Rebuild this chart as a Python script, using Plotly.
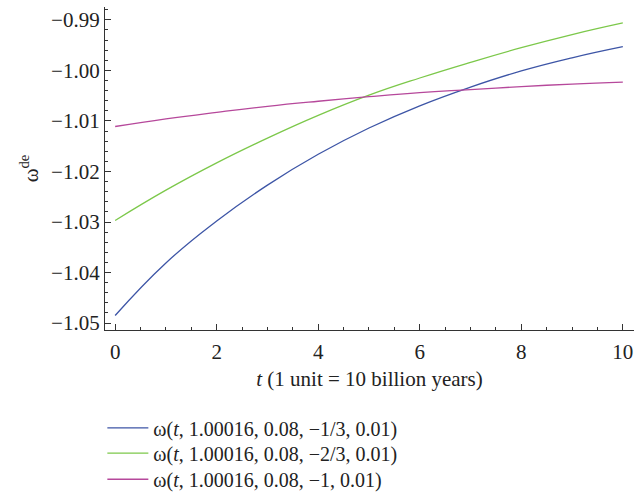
import plotly.graph_objects as go

t = [0, 1, 2, 3, 4, 5, 6, 7, 8, 9, 10]
w_blue = [-1.0485, -1.0381, -1.0298, -1.0227, -1.0166, -1.0114, -1.0070, -1.0033, -1.0001, -0.9975, -0.9953]
w_green = [-1.0297, -1.0237, -1.0183, -1.0134, -1.0089, -1.0049, -1.0015, -0.9984, -0.9955, -0.9929, -0.9906]
w_magenta = [-1.0111, -1.0096, -1.0083, -1.0071, -1.0061, -1.0052, -1.0044, -1.0038, -1.0032, -1.0027, -1.0023]

names = ["ω(<i>t</i>, 1.00016, 0.08, −1/3, 0.01)",
         "ω(<i>t</i>, 1.00016, 0.08, −2/3, 0.01)",
         "ω(<i>t</i>, 1.00016, 0.08, −1, 0.01)"]
colors = ["#3D55A6", "#7CC84A", "#B6489B"]
series = [w_blue, w_green, w_magenta]
legend_ids = ["legend", "legend2", "legend3"]
legend_y = [-0.303, -0.381, -0.462]

FONT = "Liberation Serif"
FS = 21
TXT = "#222"

fig = go.Figure()
for ys, nm, c, lg in zip(series, names, colors, legend_ids):
    fig.add_trace(go.Scatter(x=t, y=ys, mode="lines", name=nm, legend=lg,
                             line=dict(color=c, width=1.3, shape="spline", smoothing=1.3)))

legend_common = dict(x=-0.005, xanchor="left", yanchor="middle",
                     font=dict(family=FONT, size=20, color=TXT),
                     itemwidth=41, bgcolor="rgba(0,0,0,0)")
layout_legends = {lg: dict(legend_common, y=ly) for lg, ly in zip(legend_ids, legend_y)}

fig.update_layout(
    width=635, height=500,
    margin=dict(l=105, r=1, t=7, b=165),
    paper_bgcolor="white", plot_bgcolor="white",
    font=dict(family=FONT, size=FS, color=TXT),
    showlegend=True,
    **layout_legends,
)
fig.update_xaxes(
    range=[-0.2, 10.22], showgrid=False, zeroline=False,
    showline=True, linecolor="#333", linewidth=1.2,
    ticks="inside", ticklen=6, tickcolor="#333", tickwidth=1,
    tick0=0, dtick=2, ticklabelstandoff=3,
    minor=dict(ticks="inside", ticklen=3, dtick=0.5, tickcolor="#333", showgrid=False),
    tickfont=dict(family=FONT, size=FS, color=TXT),
    title=dict(text="<i>t</i> (1 unit = 10 billion years)", standoff=8,
               font=dict(family=FONT, size=FS, color=TXT)),
)
fig.update_yaxes(
    range=[-1.05137, -0.98745], showgrid=False, zeroline=False,
    showline=True, linecolor="#333", linewidth=1.2,
    ticks="inside", ticklen=6, tickcolor="#333", tickwidth=1,
    tick0=-1.0, dtick=0.01, tickformat=".2f",
    minor=dict(ticks="inside", ticklen=3, dtick=0.002, tickcolor="#333", showgrid=False),
    tickfont=dict(family=FONT, size=FS, color=TXT),
    title=dict(text="ω<sup>de</sup>", standoff=6,
               font=dict(family=FONT, size=FS, color=TXT)),
)

fig.write_html("out.html")
